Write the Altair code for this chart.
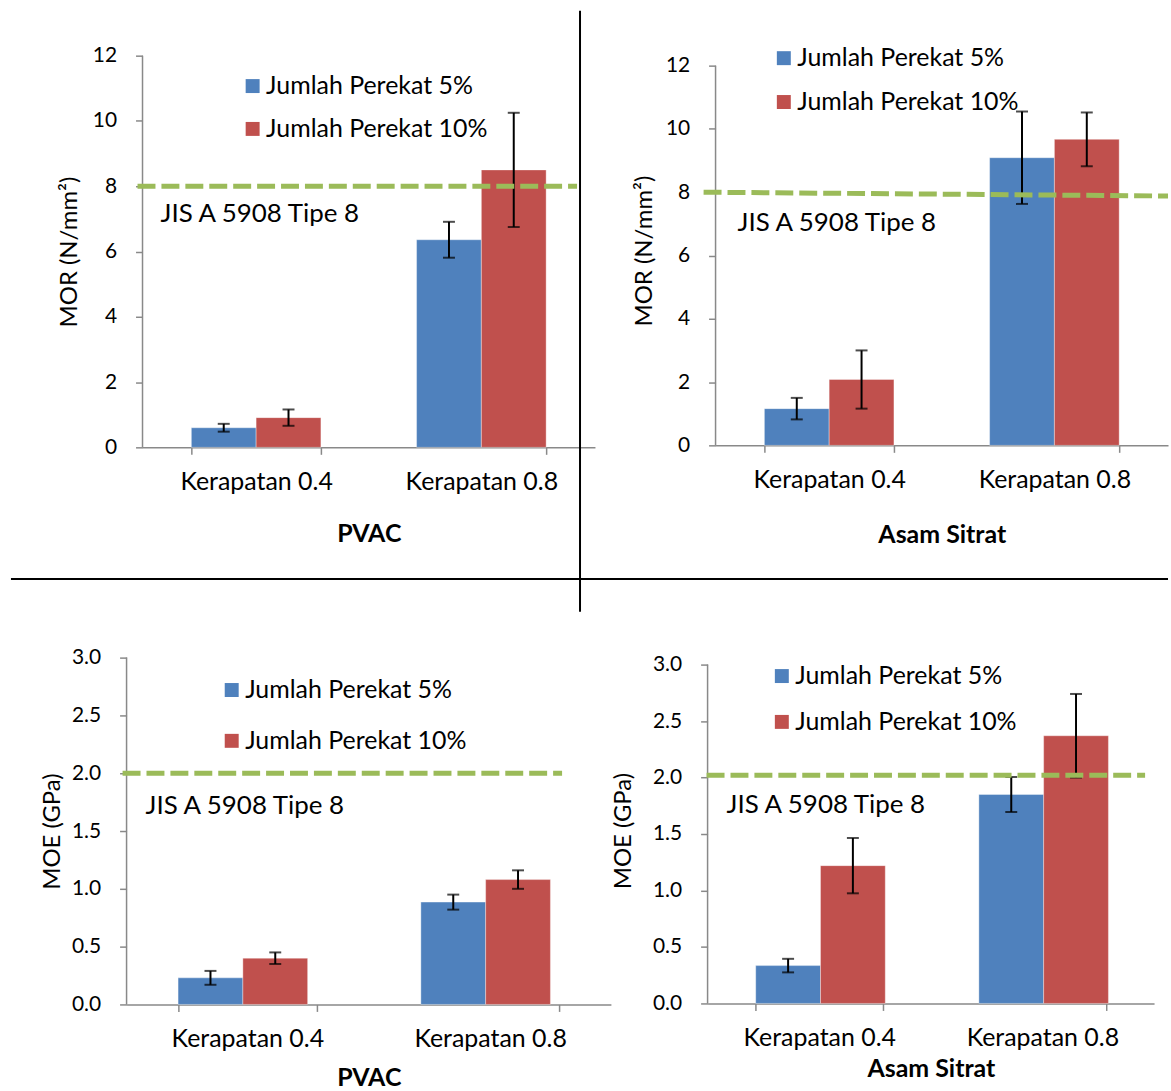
import altair as alt
import pandas as pd

FONT = "Lato"
BLUE = "#4F81BD"
RED = "#C0504D"
GREEN = "#9BBB59"
AXIS_GREY = "#898989"

categories = ["Kerapatan 0.4", "Kerapatan 0.8"]
series = ["Jumlah Perekat 5%", "Jumlah Perekat 10%"]

# MOR - PVAC
mor_pvac_5 = [0.60, 6.36]
mor_pvac_10 = [0.91, 8.50]
mor_pvac_err_5 = [0.12, 0.55]
mor_pvac_err_10 = [0.25, 1.75]
# MOR - Asam Sitrat
mor_as_5 = [1.16, 9.09]
mor_as_10 = [2.08, 9.67]
mor_as_err_5 = [0.34, 1.46]
mor_as_err_10 = [0.92, 0.85]
# MOE - PVAC
moe_pvac_5 = [0.23, 0.885]
moe_pvac_10 = [0.40, 1.08]
moe_pvac_err_5 = [0.06, 0.065]
moe_pvac_err_10 = [0.05, 0.08]
# MOE - Asam Sitrat
moe_as_5 = [0.335, 1.85]
moe_as_10 = [1.22, 2.37]
moe_as_err_5 = [0.06, 0.155]
moe_as_err_10 = [0.245, 0.37]

mor_ticks = [0, 2, 4, 6, 8, 10, 12]
moe_ticks = [0.0, 0.5, 1.0, 1.5, 2.0, 2.5, 3.0]
std_label = "JIS A 5908 Tipe 8"
std_mor = 8.0
std_moe = 2.0


def make_df(v5, v10, e5, e10):
    rows = []
    for i, c in enumerate(categories):
        rows.append(dict(kerapatan=c, perekat=series[0], value=v5[i], err=e5[i]))
        rows.append(dict(kerapatan=c, perekat=series[1], value=v10[i], err=e10[i]))
    df = pd.DataFrame(rows)
    df["lo"] = df["value"] - df["err"]
    df["hi"] = df["value"] + df["err"]
    return df


def panel(df, width, height, ytop, ticks, fmt, ytitle, xtitle, pin, pout,
          s_y, s_y2, lx0, lx1, tx, ty, legx, legy, rowpad,
          ytp, xtp, dividers=False):
    xs = alt.Scale(paddingInner=pin, paddingOuter=pout)
    xax = alt.Axis(labelAngle=0, tickBand="extent", labelFontSize=25, labelPadding=15,
                   tickSize=7, titleFontSize=25, titleFontWeight="bold",
                   titlePadding=xtp, domainColor=AXIS_GREY, tickColor=AXIS_GREY,
                   domainWidth=1.5, tickWidth=1.5, labelColor="black", titleColor="black")
    x = alt.X("kerapatan:N", sort=categories, title=xtitle, scale=xs, axis=xax)
    xo = alt.XOffset("perekat:N", sort=series,
                     scale=alt.Scale(paddingInner=0, paddingOuter=0))
    ysc = alt.Scale(domain=[0, ytop], nice=False, zero=True)
    yax = alt.Axis(values=ticks, format=fmt, domain=False, grid=False, tickSize=7,
                   labelFontSize=21, labelPadding=19, titleFontSize=24,
                   titleFontWeight="normal", titlePadding=ytp, tickColor=AXIS_GREY,
                   tickWidth=1.5, labelColor="black", titleColor="black")
    color = alt.Color(
        "perekat:N", sort=series,
        scale=alt.Scale(domain=series, range=[BLUE, RED]),
        legend=alt.Legend(orient="none", legendX=legx, legendY=legy, title=None,
                          symbolType="square", symbolSize=196, symbolStrokeWidth=0,
                          labelFont=FONT, labelFontSize=25, labelColor="black",
                          labelLimit=0, rowPadding=rowpad, padding=0, labelOffset=1),
    )
    bars = alt.Chart(df).mark_bar(stroke="white", strokeWidth=0.6, strokeOpacity=0.6).encode(
        x=x, xOffset=xo, y=alt.Y("value:Q", title=ytitle, scale=ysc, axis=yax), color=color
    )
    xe = alt.X("kerapatan:N", sort=categories, title=xtitle)
    err = alt.Chart(df).mark_rule(color="black", strokeWidth=2).encode(
        x=xe, xOffset=xo, y=alt.Y("lo:Q", title=ytitle), y2="hi:Q"
    )
    cap_lo = alt.Chart(df).mark_tick(color="black", orient="horizontal", size=12,
                                     thickness=2).encode(
        x=xe, xOffset=xo, y=alt.Y("lo:Q", title=ytitle)
    )
    cap_hi = alt.Chart(df).mark_tick(color="black", orient="horizontal", size=12,
                                     thickness=2).encode(
        x=xe, xOffset=xo, y=alt.Y("hi:Q", title=ytitle)
    )
    axis_line = alt.Chart(pd.DataFrame({"a0": [ticks[0]], "a1": [ticks[-1]]})).mark_rule(
        color=AXIS_GREY, strokeWidth=1.5).encode(
        x=alt.value(0), y=alt.Y("a0:Q", title=ytitle), y2="a1:Q"
    )
    std = alt.Chart(pd.DataFrame({"s": [s_y], "s2": [s_y2]})).mark_rule(
        color=GREEN, strokeWidth=5, strokeDash=[18, 6]).encode(
        x=alt.value(lx0), x2=alt.value(lx1), y=alt.Y("s:Q", title=ytitle), y2="s2:Q"
    )
    txt = alt.Chart(pd.DataFrame({"t": [std_label], "ty": [ty]})).mark_text(
        align="left", baseline="middle", font=FONT, fontSize=26, color="black").encode(
        x=alt.value(tx), y=alt.Y("ty:Q", title=ytitle), text="t:N"
    )
    layers = [bars, err, cap_lo, cap_hi, axis_line, std, txt]
    if dividers:
        dv = alt.Chart(pd.DataFrame({"d": [0]})).mark_rule(color="black", strokeWidth=2).encode(
            x=alt.value(439), y=alt.value(-45), y2=alt.value(558))
        dh = alt.Chart(pd.DataFrame({"d": [0]})).mark_rule(color="black", strokeWidth=2).encode(
            x=alt.value(-132), x2=alt.value(1029), y=alt.value(525))
        layers += [dv, dh]
    return alt.layer(*layers).properties(width=width, height=height)


def spacer(w):
    return alt.Chart(pd.DataFrame({"d": [0]})).mark_point(opacity=0, size=1).encode(
        x=alt.value(0), y=alt.value(0)).properties(width=w, height=1)


p1 = panel(make_df(mor_pvac_5, mor_pvac_10, mor_pvac_err_5, mor_pvac_err_10),
           454, 393, 12, mor_ticks, "d", "MOR (N/mm²)", "PVAC", 0.4248, 0.2168,
           std_mor, std_mor, -5, 436, 18, 7.15, 98, 18, 17, 11, 27, dividers=True)
p2 = panel(make_df(mor_as_5, mor_as_10, mor_as_err_5, mor_as_err_10),
           454, 391, 12 * 391 / 381, mor_ticks, "d", "MOR (N/mm²)", "Asam Sitrat",
           0.4248, 0.2168, 8.0, 7.88, -12, 454, 22, 7.02, 56, -10, 18, 9, 30)
p3 = panel(make_df(moe_pvac_5, moe_pvac_10, moe_pvac_err_5, moe_pvac_err_10),
           486, 348, 3.0, moe_ticks, ".1f", "MOE (GPa)", "PVAC", 0.4294, 0.2122,
           std_moe, std_moe, -4, 437, 19, 1.72, 93, 20, 25, 7, 14)
p4 = panel(make_df(moe_as_5, moe_as_10, moe_as_err_5, moe_as_err_10),
           448, 347, 3.0 * 347 / 340, moe_ticks, ".1f", "MOE (GPa)", "Asam Sitrat",
           0.4306, 0.2157, 2.02, 2.02, -1, 439, 19, 1.76, 62, 6, 20, 17, 6)

# p1 starts at 142 and p2 at 717; p3 starts at 126 and p4 at 709
top = alt.hconcat(spacer(1), p1, p2, spacing=121, bounds="flush").resolve_scale(
    color="independent")
bottom = alt.hconcat(spacer(9), p3, p4, spacing=97, bounds="flush").resolve_scale(
    color="independent")

chart = alt.vconcat(top, bottom, spacing=34, bounds="full").resolve_scale(
    color="independent"
).properties(
    padding={"left": 10, "top": 8, "right": 0, "bottom": 0},
    background="white",
).configure_view(stroke=None).configure_axis(labelFont=FONT, titleFont=FONT)

chart.save("out.html", embed_options={"renderer": "svg", "actions": False})
